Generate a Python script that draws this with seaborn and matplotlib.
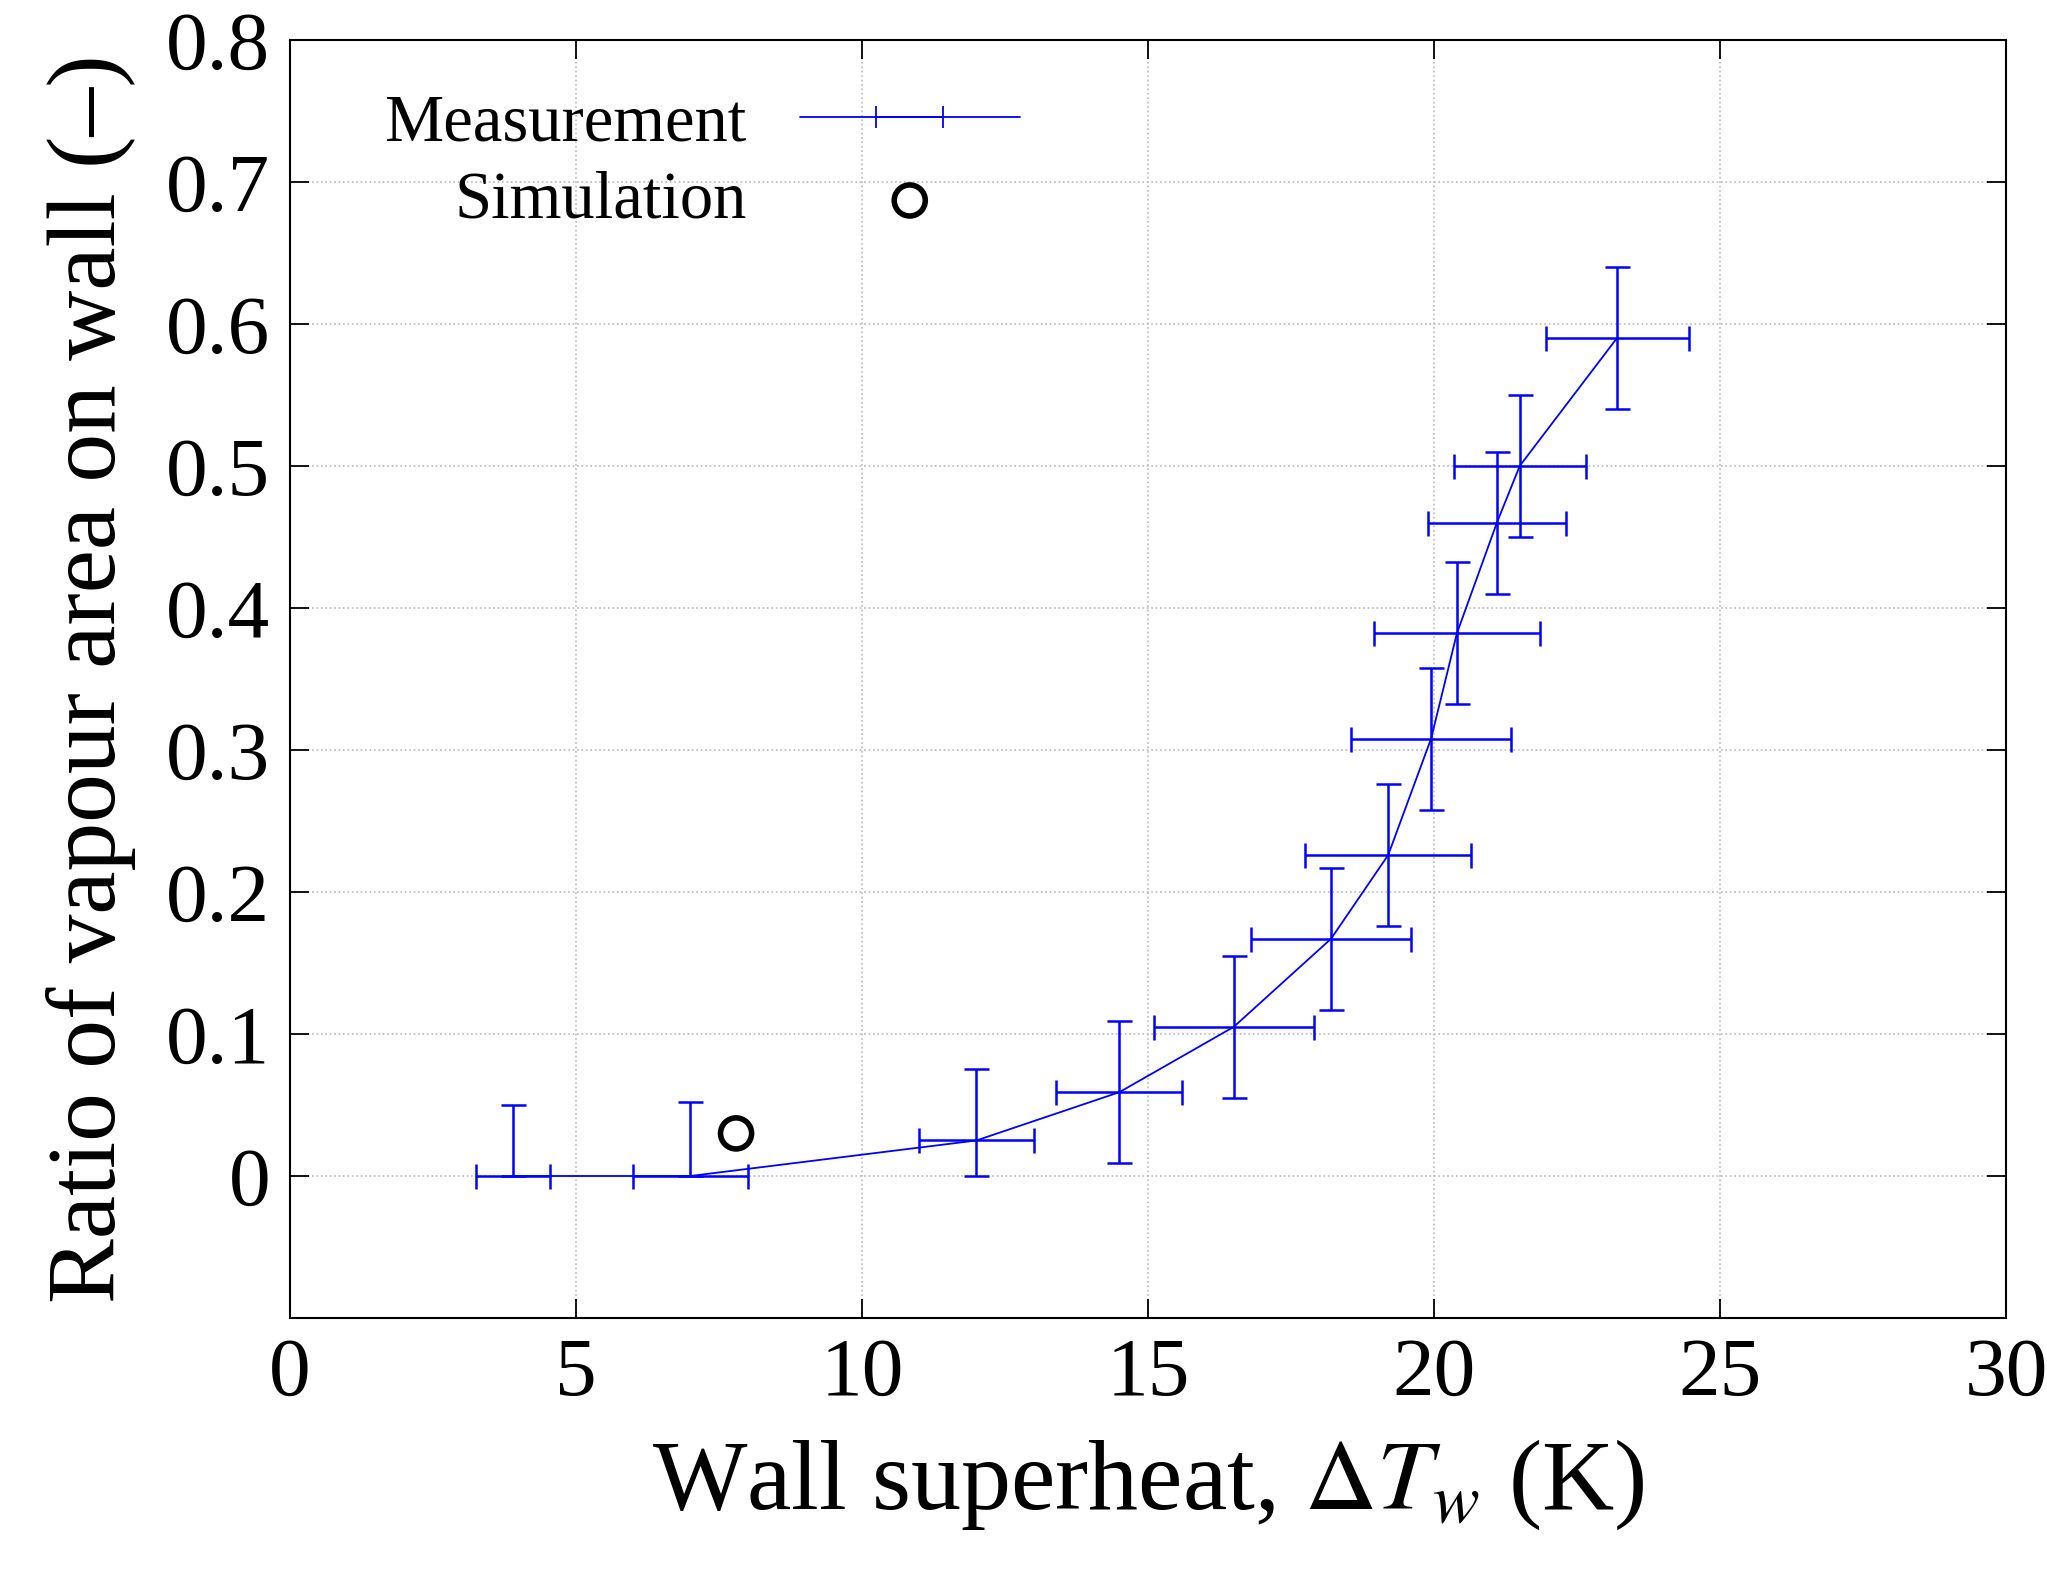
import matplotlib
matplotlib.use("Agg")
import matplotlib.pyplot as plt
import seaborn as sns
import numpy as np

sns.set_theme(style="white")
plt.rcParams['font.family'] = ['Liberation Serif', 'DejaVu Serif']
plt.rcParams['mathtext.fontset'] = 'stix'
plt.rcParams['text.color'] = 'black'
plt.rcParams['axes.labelcolor'] = 'black'
plt.rcParams['xtick.color'] = 'black'
plt.rcParams['ytick.color'] = 'black'

meas_x = [3.9, 7.0, 12.0, 14.5, 16.5, 18.2, 19.2, 19.95, 20.4, 21.1, 21.5, 23.2]
meas_y = [0.0, 0.0, 0.025, 0.059, 0.105, 0.167, 0.226, 0.308, 0.382, 0.46, 0.50, 0.59]
meas_xerr = [0.65, 1.0, 1.0, 1.1, 1.4, 1.4, 1.45, 1.4, 1.45, 1.2, 1.15, 1.25]
meas_yerr_lo = [0.0, 0.0, 0.025, 0.05, 0.05, 0.05, 0.05, 0.05, 0.05, 0.05, 0.05, 0.05]
meas_yerr_hi = [0.05, 0.052, 0.05, 0.05, 0.05, 0.05, 0.05, 0.05, 0.05, 0.05, 0.05, 0.05]
sim_x = [7.8]
sim_y = [0.03]

fig = plt.figure(figsize=(20.47, 15.88), dpi=100)
ax = fig.add_axes([0.1416, 0.170, 0.8384, 0.805])

sns.lineplot(x=meas_x, y=meas_y, ax=ax, color='#0000ff', lw=1.3, label=None)
ax.errorbar(meas_x, meas_y, xerr=meas_xerr, yerr=[meas_yerr_lo, meas_yerr_hi],
            fmt='none', ecolor='#0000ff', elinewidth=1.8, capsize=9, capthick=1.8)
leg_meas = ax.errorbar([np.nan], [np.nan], xerr=[1], fmt='-', color='#0000ff',
                       lw=1.3, elinewidth=1.3, capsize=8, capthick=1.3,
                       label='Measurement')
sns.scatterplot(x=sim_x, y=sim_y, ax=ax, marker='o', s=500, facecolor='none',
                edgecolor='black', linewidth=4, label='Simulation')

ax.set_xlim(0, 30)
ax.set_ylim(-0.1, 0.8)
ax.set_xticks(np.arange(0, 31, 5))
ax.set_yticks(np.arange(0, 0.81, 0.1))
ax.set_yticklabels(['0'] + [f'{v:.1f}' for v in np.arange(0.1, 0.81, 0.1)])
ax.grid(True, color='#bbbbbb', linestyle=':', linewidth=1.2)
ax.tick_params(direction='in', length=14, width=1.3, labelsize=60,
               top=True, right=True, bottom=True, left=True, pad=14)
for s in ax.spines.values():
    s.set_color('black'); s.set_linewidth(1.5)
ax.set_xlabel(r'Wall superheat, $\Delta T_w$ (K)', fontsize=72, labelpad=18)
ax.set_ylabel('Ratio of vapour area on wall (–)', fontsize=70, labelpad=22)

h, l = ax.get_legend_handles_labels()
order = [l.index('Measurement'), l.index('Simulation')]
ax.legend([h[i] for i in order], [l[i] for i in order], loc='upper left',
          markerfirst=False, frameon=False, fontsize=48, handlelength=3.3,
          labelspacing=0.25, bbox_to_anchor=(0.02, 1.005))

fig.savefig('out.png', dpi=100)
